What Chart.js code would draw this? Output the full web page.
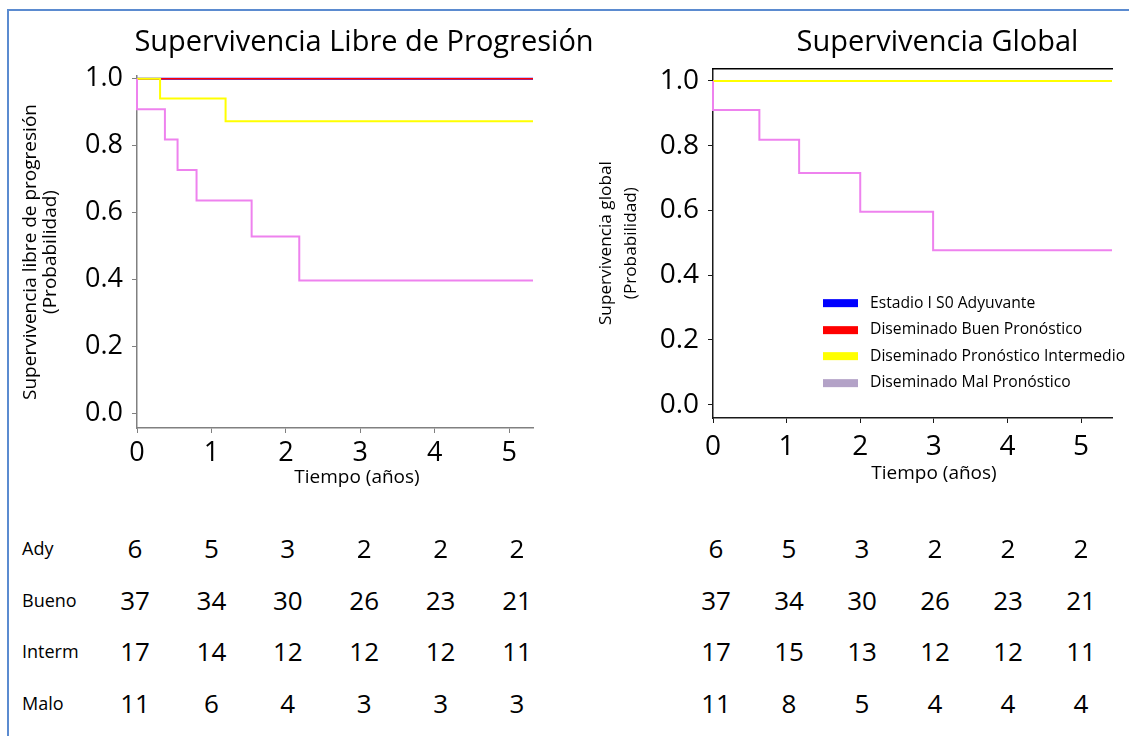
<!DOCTYPE html>
<html lang="es">
<head>
<meta charset="UTF-8" />
<title>Supervivencia</title>
<script src="https://cdn.jsdelivr.net/npm/chart.js@4.4.0/dist/chart.umd.min.js"></script>
<style>
  html, body { margin:0; padding:0; background:#fff; width:1129px; height:736px; overflow:hidden; font-family:"Open Sans", sans-serif; }
  .frame { position:absolute; left:7px; top:9px; width:1300px; height:900px; border-left:2px solid #5b8bd0; border-top:2px solid #5b8bd0; }
  canvas { position:absolute; top:0; }
  #pfs { left:0; }
  #os { left:590px; }
  .t { position:absolute; white-space:nowrap; color:#000; line-height:1; transform:translate(-50%,-50%); }
  .lab { position:absolute; white-space:nowrap; color:#000; line-height:1; font-size:18px; transform:translateY(-50%); }
  .leg { position:absolute; left:823px; font-size:15.7px; line-height:1; }
  .leg div { position:absolute; white-space:nowrap; transform:translateY(-50%); }
  .leg span { display:inline-block; width:35px; height:8px; margin-right:12px; vertical-align:middle; }
</style>
</head>
<body>
<div class="frame"></div>
<canvas id="pfs" width="728" height="500"></canvas>
<canvas id="os" width="695" height="500"></canvas>
<div id="txt"></div>

<script>
// ---- data -----------------------------------------------------------
const seriesNames  = ['Estadio I S0 Adyuvante', 'Diseminado Buen Pronóstico',
                      'Diseminado Pronóstico Intermedio', 'Diseminado Mal Pronóstico'];
const lineColors   = ['#0000ff', '#ff0000', '#ffff00', '#ee82ee'];
const legendColors = ['#0000ff', '#ff0000', '#ffff00', '#b3a2c7'];
const xTicks = [0, 1, 2, 3, 4, 5];
const yTicks = [0, 0.2, 0.4, 0.6, 0.8, 1.0];

// Supervivencia libre de progresión (time in years, probability)
const pfsAdyX    = [0, 5.32];
const pfsAdyY    = [1, 1];
const pfsBuenoX  = [0, 5.32];
const pfsBuenoY  = [1, 1];
const pfsIntermX = [0, 0.31, 1.19, 5.32];
const pfsIntermY = [1, 0.941, 0.873, 0.873];
const pfsMaloX   = [0, 0, 0.375, 0.545, 0.80, 1.54, 2.18, 5.32];
const pfsMaloY   = [1, 0.909, 0.818, 0.727, 0.636, 0.528, 0.397, 0.397];

// Supervivencia global
const osAdyX    = [0, 5.42];
const osAdyY    = [1, 1];
const osBuenoX  = [0, 5.42];
const osBuenoY  = [1, 1];
const osIntermX = [0, 5.42];
const osIntermY = [1, 1];
const osMaloX   = [0, 0, 0.63, 1.17, 2.0, 2.99, 5.42];
const osMaloY   = [1, 0.910, 0.818, 0.716, 0.596, 0.477, 0.477];

// patients at risk
const riskLabels = ['Ady', 'Bueno', 'Interm', 'Malo'];
const pfsRiskAdy    = [6, 5, 3, 2, 2, 2];
const pfsRiskBueno  = [37, 34, 30, 26, 23, 21];
const pfsRiskInterm = [17, 14, 12, 12, 12, 11];
const pfsRiskMalo   = [11, 6, 4, 3, 3, 3];
const osRiskAdy     = [6, 5, 3, 2, 2, 2];
const osRiskBueno   = [37, 34, 30, 26, 23, 21];
const osRiskInterm  = [17, 15, 13, 12, 12, 11];
const osRiskMalo    = [11, 8, 5, 4, 4, 4];

Chart.defaults.font.family = '"Open Sans", sans-serif';
Chart.defaults.color = '#000';

const pts = (xs, ys) => xs.map((x, i) => ({ x: x, y: ys[i] }));

function datasets(list) {
  return list.map((d, i) => ({
    label: seriesNames[i],
    data: pts(d[0], d[1]),
    borderColor: lineColors[i],
    backgroundColor: lineColors[i],
    borderWidth: i === 1 ? 1.5 : 2,
    pointRadius: 0,
    stepped: 'before',
    fill: false,
    clip: false,
    order: list.length - 1 - i   // later groups drawn on top
  }));
}

// c = layout numbers for one panel
function kmChart(id, title, yTitle, list, c) {
  return new Chart(document.getElementById(id), {
    type: 'line',
    data: { datasets: datasets(list) },
    options: {
      responsive: false,
      animation: false,
      devicePixelRatio: 1,
      layout: { padding: 0 },
      plugins: {
        legend: { display: false },
        tooltip: { enabled: false },
        title: {
          display: true, text: title, color: '#000',
          font: { size: 29, weight: 'normal', lineHeight: 1.2 },
          padding: { top: 25.6, bottom: c.titleBottom }
        }
      },
      scales: {
        x: {
          type: 'linear', position: 'bottom', min: 0, max: c.xMax,
          afterFit: s => { s.height = c.xHeight; },
          afterBuildTicks: s => { s.ticks = xTicks.map(v => ({ value: v })); },
          ticks: { font: { size: c.tickSize }, color: '#000', padding: c.xTickPad, maxRotation: 0, autoSkip: false },
          grid: { drawOnChartArea: false, tickLength: 5, color: c.axisColor, tickColor: c.axisColor },
          border: { color: c.axisColor, width: 1.5 }
        },
        y: {
          type: 'linear', position: 'left', min: c.yMin, max: c.yMax,
          afterFit: s => { s.width = c.yWidth; },
          afterBuildTicks: s => { s.ticks = yTicks.map(v => ({ value: v })); },
          ticks: { font: { size: c.tickSize }, color: '#000', padding: 9, callback: v => v.toFixed(1) },
          grid: { drawOnChartArea: false, tickLength: 5, color: c.axisColor, tickColor: c.axisColor },
          border: { color: c.axisColor, width: 1.5 },
          title: {
            display: true, text: yTitle, color: '#000',
            font: { size: c.yTitleSize, lineHeight: c.yTitleLine / c.yTitleSize },
            padding: { top: c.yTitlePad, bottom: 0 }
          }
        },
        // spacer on the right so the panel title centres where it should
        r: {
          type: 'linear', position: 'right', display: true,
          afterFit: s => { s.width = c.rightGap; },
          ticks: { display: false },
          grid: { display: false },
          border: { display: false }
        },
        top: {
          type: 'linear', position: 'top', display: true, min: 0, max: c.xMax,
          afterFit: s => { s.height = 0; },
          ticks: { display: false },
          grid: { display: false },
          border: { display: c.topLine, color: '#000', width: 1.5 }
        }
      }
    }
  });
}

const pfsChart = kmChart('pfs', 'Supervivencia Libre de Progresión',
  ['Supervivencia libre de progresión', '(Probabilidad)'],
  [[pfsAdyX, pfsAdyY], [pfsBuenoX, pfsBuenoY], [pfsIntermX, pfsIntermY], [pfsMaloX, pfsMaloY]],
  { xMax: 5.32, yMin: -0.044, yMax: 1.008, titleBottom: 15.6, xHeight: 72, yWidth: 137,
    rightGap: 195, tickSize: 27, xTickPad: 4, axisColor: '#808080', yTitleSize: 19, yTitleLine: 20,
    yTitlePad: 20.5, topLine: false });

const osChart = kmChart('os', 'Supervivencia Global',
  ['Supervivencia global', '(Probabilidad)'],
  [[osAdyX, osAdyY], [osBuenoX, osBuenoY], [osIntermX, osIntermY], [osMaloX, osMaloY]],
  { xMax: 5.42, yMin: -0.041, yMax: 1.039, titleBottom: 7.9, xHeight: 82, yWidth: 123,
    rightGap: 173, tickSize: 28, xTickPad: 7, axisColor: '#1a1a1a', yTitleSize: 17.2, yTitleLine: 25,
    yTitlePad: 4, topLine: true });

// ---- html text: x titles, legend, risk table -------------------------
const box = document.getElementById('txt');
function put(cls, text, x, y, size) {
  const d = document.createElement('div');
  d.className = cls;
  d.textContent = text;
  d.style.left = x + 'px';
  d.style.top = y + 'px';
  if (size) d.style.fontSize = size + 'px';
  box.appendChild(d);
}
put('t', 'Tiempo (años)', 357, 476, 19);
put('t', 'Tiempo (años)', 934, 472, 19);

const leg = document.createElement('div');
leg.className = 'leg';
osChart.data.datasets.forEach((ds, i) => {
  const row = document.createElement('div');
  row.style.top = (302.5 + i * 26.5) + 'px';
  const sw = document.createElement('span');
  sw.style.background = legendColors[i];
  row.appendChild(sw);
  row.appendChild(document.createTextNode(ds.label));
  leg.appendChild(row);
});
box.appendChild(leg);

const pfsRisk = [pfsRiskAdy, pfsRiskBueno, pfsRiskInterm, pfsRiskMalo];
const osRisk  = [osRiskAdy, osRiskBueno, osRiskInterm, osRiskMalo];
riskLabels.forEach((lab, r) => {
  const y = 548 + r * 51.7;
  put('lab', lab, 22, y);
  pfsRisk[r].forEach((n, i) => put('t', String(n), 135 + i * 76.4, y, 26));
  osRisk[r].forEach((n, i) => put('t', String(n), 716 + i * 73, y, 26));
});
</script>
</body>
</html>
